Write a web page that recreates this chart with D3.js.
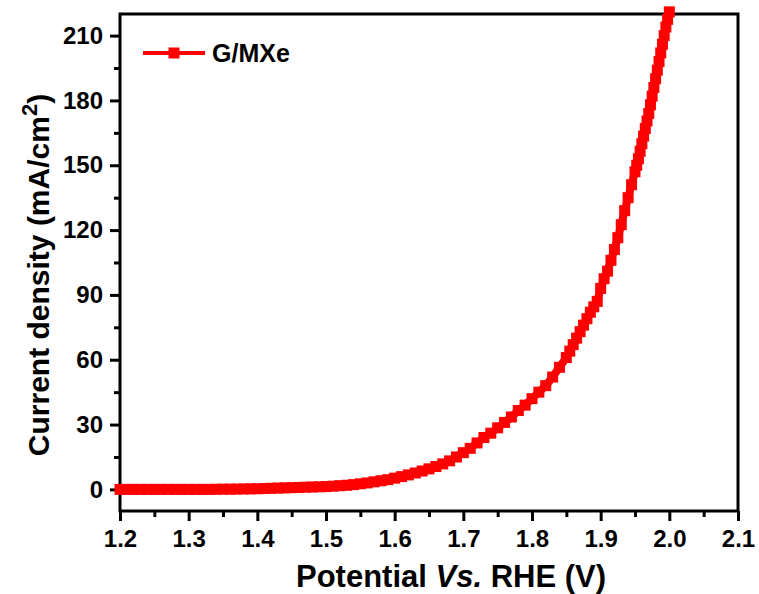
<!DOCTYPE html>
<html>
  <head>
    <meta charset="utf-8">
    <style>
    body { margin: 0; background: #fff; }
    text { font-family: "Liberation Sans", Arial, sans-serif; font-weight: bold; fill: #000; }
    .axis path { display: none; }
    .axis line { stroke: #000; stroke-width: 3px; }
    </style>
  </head>
  <body>
    <script src="https://d3js.org/d3.v7.min.js"></script>
    <script>

    // potential (V vs RHE)
    var potential = [
      1.20, 1.21, 1.22, 1.23, 1.24, 1.25, 1.26, 1.27, 1.28, 1.29,
      1.30, 1.31, 1.32, 1.33, 1.34, 1.35, 1.36, 1.37, 1.38, 1.39,
      1.40, 1.41, 1.42, 1.43, 1.44, 1.45, 1.46, 1.47, 1.48, 1.49,
      1.50, 1.51, 1.52, 1.53, 1.54, 1.55, 1.56, 1.57, 1.58, 1.59,
      1.60, 1.61, 1.62, 1.63, 1.64, 1.65, 1.66, 1.67, 1.68, 1.69,
      1.70, 1.71, 1.72, 1.73, 1.74, 1.75, 1.76, 1.77, 1.78, 1.79,
      1.80, 1.81, 1.82, 1.83, 1.84, 1.85,
      1.855, 1.86, 1.865, 1.87, 1.875, 1.88, 1.885, 1.89, 1.895, 1.90,
      1.905, 1.91, 1.915, 1.92, 1.925, 1.93, 1.935, 1.94, 1.945, 1.95,
      1.9525, 1.955, 1.9575, 1.96, 1.9625, 1.965, 1.9675, 1.97, 1.9725, 1.975,
      1.9775, 1.98, 1.9825, 1.985, 1.9875, 1.99, 1.9925, 1.995, 1.9975, 2.00
    ];

    // current density (mA/cm2), G/MXe
    var current = [
      0, 0, 0, 0, 0, 0, 0, 0, 0, 0,
      0, 0, 0, 0, 0.05, 0.1, 0.1, 0.15, 0.2, 0.25,
      0.3, 0.4, 0.5, 0.6, 0.7, 0.8, 0.9, 1.0, 1.1, 1.2,
      1.3, 1.5, 1.7, 1.9, 2.2, 2.6, 3.0, 3.5, 4.0, 4.5,
      5.2, 5.9, 6.7, 7.6, 8.5, 9.5, 10.6, 11.8, 13.2, 15.0,
      17.0, 19.0, 21.5, 24.0, 26.0, 28.5, 31.0, 33.5, 36.5, 39.0,
      42.0, 45.0, 48.0, 52.0, 56.5, 61.0,
      64, 67, 70, 73, 76, 79, 82, 84.5, 87, 93,
      97.5, 101, 106, 111, 116.5, 122.5, 129, 135, 141, 147,
      150, 153, 156.5, 160, 163.5, 167, 170.5, 174, 178, 182,
      186, 190, 194, 198, 202, 206, 210, 214, 217.5, 221
    ];

    var seriesName = "G/MXe";
    var xTicks = [1.2, 1.3, 1.4, 1.5, 1.6, 1.7, 1.8, 1.9, 2.0, 2.1];
    var yTicks = [0, 30, 60, 90, 120, 150, 180, 210];
    var xMinor = [1.25, 1.35, 1.45, 1.55, 1.65, 1.75, 1.85, 1.95, 2.05];
    var yMinor = [15, 45, 75, 105, 135, 165, 195];

    var width = 759, height = 594;
    var plotL = 120, plotR = 738, plotT = 14, plotB = 511;

    var svg = d3.select("body").append("svg")
        .attr("width", width)
        .attr("height", height);

    var x = d3.scaleLinear().domain([1.2, 2.1]).range([plotL, plotR]);
    var y = d3.scaleLinear().domain([-10, 220]).range([plotB, plotT]);

    // minor ticks
    svg.append("g")
        .attr("class", "axis")
        .attr("transform", "translate(0," + plotB + ")")
        .call(d3.axisBottom(x).tickValues(xMinor).tickSize(6).tickFormat(""));
    svg.append("g")
        .attr("class", "axis")
        .attr("transform", "translate(" + plotL + ",0)")
        .call(d3.axisLeft(y).tickValues(yMinor).tickSize(6).tickFormat(""));

    // major ticks
    var xAxis = svg.append("g")
        .attr("class", "axis")
        .attr("transform", "translate(0," + plotB + ")")
        .call(d3.axisBottom(x).tickValues(xTicks).tickSize(10).tickPadding(9)
          .tickFormat(d3.format(".1f")));
    var yAxis = svg.append("g")
        .attr("class", "axis")
        .attr("transform", "translate(" + plotL + ",0)")
        .call(d3.axisLeft(y).tickValues(yTicks).tickSize(10).tickPadding(7)
          .tickFormat(d3.format("d")));
    xAxis.attr("font-size", 24).attr("font-family", null);
    yAxis.attr("font-size", 24).attr("font-family", null);
    xAxis.selectAll("text").attr("fill", "#000");
    yAxis.selectAll("text").attr("fill", "#000");

    // frame
    svg.append("rect")
        .attr("x", plotL)
        .attr("y", plotT)
        .attr("width", plotR - plotL)
        .attr("height", plotB - plotT)
        .attr("fill", "none")
        .attr("stroke", "#000")
        .attr("stroke-width", 3);

    var pts = potential.map(function(d, i) { return [d, current[i]]; });

    var line = d3.line()
        .x(function(d) { return x(d[0]); })
        .y(function(d) { return y(d[1]); });

    svg.append("path")
        .datum(pts)
        .attr("d", line)
        .attr("fill", "none")
        .attr("stroke", "#ff0000")
        .attr("stroke-width", 8);

    var ms = 11;
    svg.append("g")
      .selectAll("rect")
      .data(pts)
      .enter().append("rect")
        .attr("x", function(d) { return x(d[0]) - ms / 2; })
        .attr("y", function(d) { return y(d[1]) - ms / 2; })
        .attr("width", ms)
        .attr("height", ms)
        .attr("fill", "#ff0000");

    // legend
    var leg = svg.append("g").attr("transform", "translate(143,53)");
    leg.append("line")
        .attr("x1", 0).attr("x2", 62)
        .attr("y1", 0).attr("y2", 0)
        .attr("stroke", "#ff0000")
        .attr("stroke-width", 4);
    leg.append("rect")
        .attr("x", 31 - 5.5).attr("y", -5.5)
        .attr("width", 11).attr("height", 11)
        .attr("fill", "#ff0000");
    leg.append("text")
        .attr("x", 69)
        .attr("y", 9)
        .style("font-size", "25px")
        .text(seriesName);

    // axis titles
    var xt = svg.append("text")
        .attr("x", 451)
        .attr("y", 587)
        .attr("text-anchor", "middle")
        .style("font-size", "31px");
    xt.append("tspan").text("Potential ");
    xt.append("tspan").style("font-style", "italic").text("Vs.");
    xt.append("tspan").text(" RHE (V)");

    var yt = svg.append("text")
        .attr("transform", "translate(49,275) rotate(-90)")
        .attr("text-anchor", "middle")
        .style("font-size", "30px");
    yt.append("tspan").text("Current density (mA/cm");
    yt.append("tspan").attr("dy", -12).style("font-size", "22px").text("2");
    yt.append("tspan").attr("dy", 12).text(")");

    </script>
  </body>
</html>
